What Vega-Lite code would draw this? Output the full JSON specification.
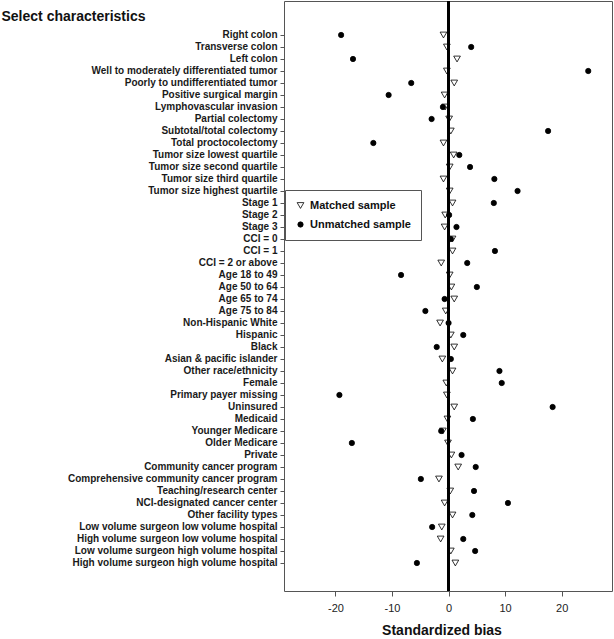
{
  "$schema": "https://vega.github.io/schema/vega-lite/v6.json",
  "width": 328,
  "height": 590,
  "autosize": {"type": "none"},
  "padding": {"left": 284, "top": 1, "right": 2, "bottom": 48},
  "background": "white",
  "config": {
    "view": {"stroke": "#555", "strokeWidth": 1},
    "font": "Liberation Sans"
  },
  "datasets": {
    "bias": [
      {"characteristic": "Right colon", "Matched": -0.9, "Unmatched": -19.0},
      {"characteristic": "Transverse colon", "Matched": -0.3, "Unmatched": 4.0},
      {"characteristic": "Left colon", "Matched": 1.5, "Unmatched": -16.9},
      {"characteristic": "Well to moderately differentiated tumor", "Matched": -0.3, "Unmatched": 24.7},
      {"characteristic": "Poorly to undifferentiated tumor", "Matched": 1.0, "Unmatched": -6.6},
      {"characteristic": "Positive surgical margin", "Matched": -0.7, "Unmatched": -10.6},
      {"characteristic": "Lymphovascular invasion", "Matched": -0.6, "Unmatched": -1.0},
      {"characteristic": "Partial colectomy", "Matched": 0.1, "Unmatched": -3.0},
      {"characteristic": "Subtotal/total colectomy", "Matched": 0.4, "Unmatched": 17.6},
      {"characteristic": "Total proctocolectomy", "Matched": -0.9, "Unmatched": -13.3},
      {"characteristic": "Tumor size lowest quartile", "Matched": 0.9, "Unmatched": 1.9},
      {"characteristic": "Tumor size second quartile", "Matched": 0.2, "Unmatched": 3.8},
      {"characteristic": "Tumor size third quartile", "Matched": -0.9, "Unmatched": 8.1},
      {"characteristic": "Tumor size highest quartile", "Matched": 0.2, "Unmatched": 12.2},
      {"characteristic": "Stage 1", "Matched": 0.7, "Unmatched": 8.0},
      {"characteristic": "Stage 2", "Matched": -0.6, "Unmatched": 0.1},
      {"characteristic": "Stage 3", "Matched": -0.7, "Unmatched": 1.4},
      {"characteristic": "CCI = 0", "Matched": 0.7, "Unmatched": 0.4},
      {"characteristic": "CCI = 1", "Matched": 0.7, "Unmatched": 8.2},
      {"characteristic": "CCI = 2 or above", "Matched": -1.3, "Unmatched": 3.3},
      {"characteristic": "Age 18 to 49", "Matched": 0.2, "Unmatched": -8.4},
      {"characteristic": "Age 50 to 64", "Matched": 0.5, "Unmatched": 5.0},
      {"characteristic": "Age 65 to 74", "Matched": 1.0, "Unmatched": -0.7},
      {"characteristic": "Age 75 to 84", "Matched": -0.5, "Unmatched": -4.1},
      {"characteristic": "Non-Hispanic White", "Matched": -1.5, "Unmatched": 0.0},
      {"characteristic": "Hispanic", "Matched": 0.4, "Unmatched": 2.6},
      {"characteristic": "Black", "Matched": 1.0, "Unmatched": -2.1},
      {"characteristic": "Asian & pacific islander", "Matched": -1.1, "Unmatched": 0.4},
      {"characteristic": "Other race/ethnicity", "Matched": 0.7, "Unmatched": 9.0},
      {"characteristic": "Female", "Matched": -0.4, "Unmatched": 9.4},
      {"characteristic": "Primary payer missing", "Matched": -0.3, "Unmatched": -19.3},
      {"characteristic": "Uninsured", "Matched": 1.0, "Unmatched": 18.4},
      {"characteristic": "Medicaid", "Matched": -0.2, "Unmatched": 4.3},
      {"characteristic": "Younger Medicare", "Matched": -1.0, "Unmatched": -1.3},
      {"characteristic": "Older Medicare", "Matched": -0.1, "Unmatched": -17.1},
      {"characteristic": "Private", "Matched": 0.5, "Unmatched": 2.3},
      {"characteristic": "Community cancer program", "Matched": 1.7, "Unmatched": 4.8},
      {"characteristic": "Comprehensive community cancer program", "Matched": -1.7, "Unmatched": -4.9},
      {"characteristic": "Teaching/research center", "Matched": 0.3, "Unmatched": 4.5},
      {"characteristic": "NCI-designated cancer center", "Matched": -0.7, "Unmatched": 10.5},
      {"characteristic": "Other facility types", "Matched": 0.7, "Unmatched": 4.2},
      {"characteristic": "Low volume surgeon low volume hospital", "Matched": -1.2, "Unmatched": -2.9},
      {"characteristic": "High volume surgeon low volume hospital", "Matched": -1.4, "Unmatched": 2.6},
      {"characteristic": "Low volume surgeon high volume hospital", "Matched": 0.4, "Unmatched": 4.7},
      {"characteristic": "High volume surgeon high volume hospital", "Matched": 1.2, "Unmatched": -5.6}
    ]
  },
  "data": {"name": "bias"},
  "transform": [
    {"fold": ["Matched", "Unmatched"], "as": ["group", "bias"]},
    {"calculate": "datum.group + ' sample'", "as": "sample"}
  ],
  "layer": [
    {
      "mark": {"type": "point", "filled": true, "stroke": "black", "strokeWidth": 0.8, "opacity": 1},
      "encoding": {
        "y": {
          "field": "characteristic",
          "type": "nominal",
          "scale": {
            "type": "band",
            "paddingInner": 0,
            "paddingOuter": 0.583,
            "align": 0.286,
            "domain": [" ", "  ",
              "Right colon", "Transverse colon", "Left colon",
              "Well to moderately differentiated tumor", "Poorly to undifferentiated tumor",
              "Positive surgical margin", "Lymphovascular invasion", "Partial colectomy",
              "Subtotal/total colectomy", "Total proctocolectomy",
              "Tumor size lowest quartile", "Tumor size second quartile", "Tumor size third quartile", "Tumor size highest quartile",
              "Stage 1", "Stage 2", "Stage 3", "CCI = 0", "CCI = 1", "CCI = 2 or above",
              "Age 18 to 49", "Age 50 to 64", "Age 65 to 74", "Age 75 to 84",
              "Non-Hispanic White", "Hispanic", "Black", "Asian & pacific islander", "Other race/ethnicity",
              "Female", "Primary payer missing", "Uninsured", "Medicaid", "Younger Medicare", "Older Medicare", "Private",
              "Community cancer program", "Comprehensive community cancer program", "Teaching/research center",
              "NCI-designated cancer center", "Other facility types",
              "Low volume surgeon low volume hospital", "High volume surgeon low volume hospital",
              "Low volume surgeon high volume hospital", "High volume surgeon high volume hospital",
              "   "]
          },
          "axis": {
            "title": "Select characteristics",
            "titleAngle": 0,
            "titleX": -283,
            "titleY": 15,
            "titleAlign": "left",
            "titleBaseline": "middle",
            "titleFontSize": 14,
            "titleFontWeight": "bold",
            "titleColor": "#111",
            "labelFontSize": 10,
            "labelFontWeight": "bold",
            "labelColor": "#1a1a1a",
            "labelPadding": 3,
            "labelLimit": 300,
            "tickSize": 4,
            "tickColor": "#555",
            "tickOpacity": {"condition": {"test": "trim(datum.value) == ''", "value": 0}, "value": 1},
            "tickBand": "center",
            "domain": false,
            "grid": false
          }
        },
        "x": {
          "field": "bias",
          "type": "quantitative",
          "scale": {"domain": [-29.1, 28.9], "nice": false, "zero": false},
          "axis": {
            "values": [-20, -10, 0, 10, 20],
            "labelExpr": "datum.value < 0 ? '-' + abs(datum.value) : '' + datum.value",
            "title": "Standardized bias",
            "titleFontSize": 14,
            "titleFontWeight": "bold",
            "titleColor": "#111",
            "titleX": 157.5,
            "titleY": 43,
            "titleBaseline": "alphabetic",
            "labelFontSize": 11,
            "labelFontWeight": "normal",
            "labelColor": "#222",
            "labelPadding": 6,
            "tickSize": 5,
            "tickColor": "#555",
            "domain": false,
            "grid": false
          }
        },
        "shape": {
          "field": "sample",
          "type": "nominal",
          "scale": {"domain": ["Matched sample", "Unmatched sample"], "range": ["triangle-down", "circle"]},
          "legend": {
            "title": null,
            "orient": "none",
            "legendX": 1,
            "legendY": 189,
            "strokeColor": "#555",
            "fillColor": "white",
            "padding": 10,
            "rowPadding": 7,
            "labelFontSize": 11,
            "labelFontWeight": "bold",
            "labelColor": "#111",
            "symbolStrokeColor": "black",
            "symbolStrokeWidth": 0.8
          }
        },
        "fill": {
          "field": "sample",
          "type": "nominal",
          "scale": {"domain": ["Matched sample", "Unmatched sample"], "range": ["white", "black"]}
        },
        "size": {
          "field": "sample",
          "type": "nominal",
          "scale": {"domain": ["Matched sample", "Unmatched sample"], "range": [45, 28]}
        }
      }
    },
    {
      "mark": {"type": "rule", "color": "black", "strokeWidth": 2},
      "encoding": {"x": {"datum": 0}}
    }
  ]
}
